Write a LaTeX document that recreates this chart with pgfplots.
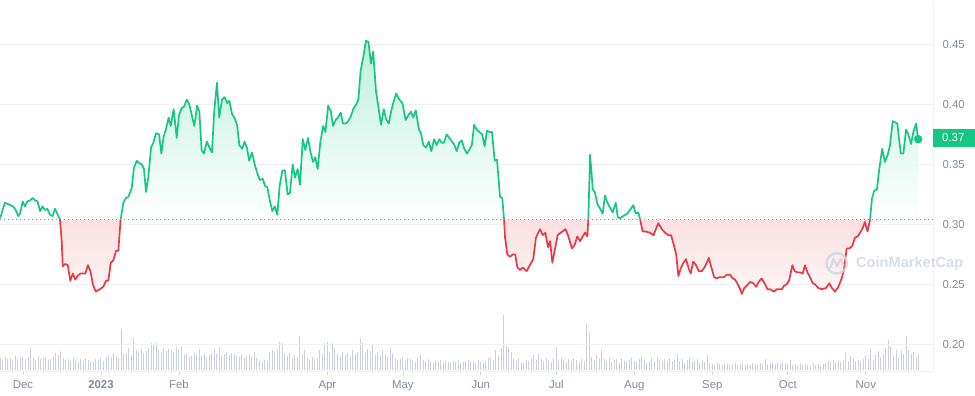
\documentclass[border=0pt]{standalone}
\usepackage{fontspec}
\setmainfont{Liberation Sans}
\usepackage{pgfplots}
\pgfplotsset{compat=1.18}
\usepackage{pgfplotstable}

\definecolor{cmcgreen}{HTML}{16C784}
\definecolor{cmcred}{HTML}{EA3943}
\definecolor{gridc}{HTML}{EFF2F5}
\definecolor{tickc}{HTML}{CDD3DD}
\definecolor{labc}{HTML}{808A9D}
\definecolor{volc}{HTML}{C9CFDC}
\definecolor{dotc}{HTML}{8F99AB}
\definecolor{wmc}{HTML}{CFD6E4}

% price: day index from 1 Dec 2022, price in USD
\pgfplotstableread{
d p
-9.1 0.305
-7.2 0.318
-3.9 0.315
-2.9 0.312
-1.9 0.307
-1.2 0.309
-0.1 0.319
0.8 0.315
1.7 0.319
2.8 0.320
3.9 0.322
4.8 0.320
5.8 0.319
6.8 0.311
7.8 0.315
8.7 0.312
9.7 0.313
10.7 0.308
11.8 0.307
12.7 0.313
13.6 0.309
14.7 0.304
15.4 0.286
15.8 0.265
16.7 0.267
17.8 0.266
18.8 0.253
19.8 0.259
20.8 0.254
21.7 0.257
22.8 0.259
24.8 0.259
25.8 0.266
26.8 0.261
27.8 0.250
28.9 0.244
30.6 0.246
31.9 0.248
33.0 0.253
33.9 0.253
34.9 0.268
35.9 0.270
37.0 0.278
37.9 0.278
38.8 0.304
39.9 0.318
40.9 0.322
41.9 0.323
43.2 0.330
44.1 0.347
45.2 0.353
46.2 0.351
47.3 0.350
48.1 0.346
48.9 0.327
49.8 0.339
50.9 0.364
51.8 0.368
52.9 0.376
54.1 0.375
55.0 0.359
55.9 0.373
56.8 0.379
57.9 0.389
58.7 0.382
59.9 0.396
61.1 0.372
62.0 0.391
63.1 0.397
64.0 0.398
65.1 0.404
66.1 0.400
67.1 0.391
68.1 0.382
69.2 0.399
70.1 0.394
71.0 0.362
71.9 0.359
73.1 0.369
74.1 0.364
75.1 0.360
76.0 0.394
77.1 0.418
78.0 0.389
79.1 0.404
80.2 0.406
81.1 0.401
82.0 0.403
83.1 0.392
84.0 0.389
85.1 0.383
86.0 0.366
87.1 0.363
88.1 0.369
89.0 0.364
89.9 0.353
91.0 0.360
92.1 0.350
93.1 0.343
94.1 0.337
95.3 0.338
96.2 0.332
97.1 0.331
98.2 0.319
99.1 0.311
100.1 0.315
101.1 0.308
102.0 0.332
103.1 0.345
104.1 0.345
105.2 0.325
106.1 0.326
107.2 0.350
108.1 0.339
109.2 0.346
110.1 0.333
111.2 0.371
112.2 0.362
113.3 0.372
114.2 0.361
115.3 0.352
116.2 0.356
117.1 0.346
118.2 0.369
119.3 0.382
120.2 0.377
121.3 0.399
122.4 0.394
123.2 0.382
124.3 0.387
125.2 0.389
126.3 0.393
127.2 0.384
128.3 0.384
129.3 0.386
130.3 0.390
131.3 0.396
132.4 0.400
133.3 0.404
134.2 0.428
135.3 0.440
136.3 0.453
137.3 0.452
138.3 0.434
139.2 0.444
140.3 0.411
141.4 0.396
142.3 0.383
143.4 0.396
144.3 0.388
145.4 0.384
146.3 0.394
147.0 0.400
148.3 0.409
149.6 0.404
150.8 0.401
152.1 0.387
153.2 0.391
154.2 0.394
155.1 0.389
156.1 0.395
157.4 0.379
158.2 0.376
159.1 0.366
160.2 0.364
161.3 0.369
162.3 0.361
163.4 0.371
164.4 0.366
165.5 0.371
166.4 0.368
167.3 0.368
168.4 0.375
169.5 0.372
170.5 0.369
171.3 0.367
172.4 0.361
173.4 0.368
174.4 0.370
175.4 0.363
176.5 0.359
177.4 0.362
178.4 0.366
179.3 0.383
180.3 0.379
181.4 0.377
182.5 0.375
183.5 0.365
184.4 0.378
185.5 0.377
186.4 0.377
187.5 0.353
188.4 0.354
189.6 0.323
190.5 0.322
191.2 0.304
191.6 0.289
192.5 0.275
193.6 0.273
194.7 0.275
195.6 0.275
196.5 0.264
197.6 0.262
198.6 0.264
200.2 0.261
202.8 0.271
203.9 0.289
205.5 0.296
206.6 0.291
207.6 0.293
208.7 0.281
209.5 0.286
210.4 0.268
211.5 0.280
212.5 0.291
213.7 0.293
215.6 0.296
216.6 0.291
218.2 0.280
219.3 0.283
220.3 0.290
221.4 0.286
222.5 0.290
223.4 0.293
224.3 0.290
224.7 0.304
225.4 0.358
226.5 0.329
227.3 0.327
228.3 0.317
229.4 0.313
230.4 0.309
231.3 0.324
232.3 0.318
233.3 0.314
234.4 0.310
235.6 0.318
236.4 0.306
237.3 0.305
238.6 0.307
240.2 0.309
242.6 0.316
243.5 0.309
244.6 0.310
245.3 0.304
246.3 0.294
247.6 0.294
249.2 0.293
250.6 0.291
252.5 0.301
253.9 0.296
255.2 0.293
256.5 0.291
257.6 0.291
258.8 0.282
259.6 0.275
260.5 0.257
261.4 0.263
262.5 0.268
263.5 0.271
264.5 0.264
265.4 0.259
266.4 0.269
267.5 0.266
268.6 0.261
269.8 0.261
270.8 0.264
271.8 0.268
272.6 0.272
273.5 0.265
274.7 0.256
275.7 0.255
276.8 0.256
278.6 0.256
279.7 0.258
281.0 0.258
282.1 0.255
283.0 0.254
283.9 0.251
285.0 0.246
285.7 0.242
286.7 0.247
287.7 0.249
289.0 0.252
290.3 0.251
291.4 0.248
292.4 0.252
293.6 0.255
294.7 0.251
295.9 0.246
296.9 0.246
298.5 0.244
299.6 0.246
300.6 0.246
301.7 0.246
302.5 0.249
303.6 0.250
304.6 0.254
305.8 0.266
306.7 0.261
307.8 0.260
308.8 0.260
309.9 0.259
310.8 0.266
311.8 0.260
312.8 0.256
313.9 0.251
314.8 0.250
316.1 0.247
317.5 0.246
319.2 0.247
320.5 0.251
321.5 0.247
322.8 0.244
324.1 0.248
325.4 0.255
326.3 0.262
327.4 0.280
328.5 0.280
329.6 0.282
330.7 0.289
331.8 0.290
332.7 0.293
333.8 0.297
334.6 0.302
335.7 0.294
336.7 0.304
337.4 0.321
338.3 0.328
339.4 0.329
340.4 0.347
341.5 0.363
342.6 0.352
343.7 0.358
344.6 0.366
345.7 0.386
346.7 0.385
347.5 0.384
348.9 0.359
349.9 0.359
351.0 0.379
351.9 0.375
353.0 0.367
353.9 0.377
355.0 0.384
355.8 0.371
}\price

% daily volume (relative units), first row = day -9
\pgfplotstableread[row sep=\\]{h\\
12\\10\\13\\11\\12\\10\\14\\11\\12\\13\\
11\\13\\22\\12\\10\\14\\11\\12\\13\\10\\
11\\13\\17\\15\\19\\12\\10\\11\\9\\12\\
10\\8\\11\\9\\12\\10\\8\\9\\11\\10\\
12\\9\\13\\15\\13\\17\\14\\12\\41\\16\\
17\\22\\14\\32\\20\\18\\21\\17\\19\\22\\
27\\25\\27\\20\\18\\22\\19\\21\\20\\18\\
23\\21\\24\\15\\16\\13\\14\\17\\15\\21\\
14\\16\\13\\15\\17\\21\\16\\23\\14\\16\\
18\\15\\17\\16\\14\\13\\15\\12\\14\\16\\
13\\18\\12\\9\\8\\10\\9\\18\\20\\17\\
20\\28\\27\\16\\14\\17\\12\\15\\13\\34\\
16\\20\\12\\10\\13\\11\\12\\20\\16\\27\\
28\\18\\27\\22\\16\\13\\18\\15\\17\\14\\
20\\16\\18\\31\\27\\17\\21\\19\\25\\15\\
18\\14\\20\\16\\13\\22\\17\\12\\10\\11\\
13\\9\\12\\11\\10\\8\\12\\15\\10\\9\\
11\\8\\7\\9\\8\\10\\7\\9\\8\\7\\
9\\8\\10\\7\\8\\9\\10\\8\\9\\7\\
10\\8\\7\\9\\12\\13\\10\\20\\15\\22\\
55\\24\\22\\18\\11\\9\\12\\8\\7\\10\\
9\\12\\15\\10\\16\\11\\9\\12\\10\\8\\
11\\23\\9\\12\\10\\8\\11\\9\\12\\10\\
8\\11\\9\\46\\37\\13\\10\\15\\12\\20\\
11\\9\\12\\8\\10\\11\\7\\12\\9\\8\\
10\\12\\9\\8\\11\\14\\10\\7\\9\\12\\
8\\13\\10\\9\\11\\8\\12\\9\\10\\16\\
9\\11\\7\\10\\12\\8\\9\\11\\7\\10\\
8\\15\\7\\6\\5\\7\\6\\5\\7\\6\\
5\\6\\7\\5\\6\\7\\5\\6\\5\\7\\
6\\5\\7\\6\\11\\6\\7\\8\\6\\7\\
6\\8\\7\\6\\10\\5\\6\\4\\7\\5\\
6\\5\\4\\7\\5\\6\\4\\6\\7\\9\\
8\\10\\7\\9\\8\\10\\17\\9\\14\\12\\
9\\10\\8\\11\\14\\11\\21\\10\\15\\19\\
13\\16\\22\\30\\24\\14\\20\\12\\19\\16\\
34\\20\\16\\18\\13\\17\\
}\vol

\begin{document}
\begin{tikzpicture}[x=1pt,y=1pt]
\useasboundingbox (0,0) rectangle (975,396);
% volume bars
\begin{axis}[at={(0,26)}, anchor=south west, scale only axis,
  width=933pt, height=370pt, xmin=-9.14, xmax=361.7, ymin=0, ymax=370,
  axis lines=none]
  \addplot[ycomb, mark=none, draw=volc, line width=1pt] table[x expr=\coordindex-9, y=h] {\vol};
\end{axis}
% price
\begin{axis}[at={(0,20.5)}, anchor=south west, scale only axis,
  width=933pt, height=370pt,
  xmin=-9.14, xmax=361.7, ymin=0.1775, ymax=0.4858,
  axis x line*=bottom, axis y line*=right,
  axis line style={draw=gridc, line width=1pt, -},
  xtick={0,31,62,121,151,182,212,243,274,304,335},
  xticklabels={Dec,\textbf{2023},Feb,Apr,May,Jun,Jul,Aug,Sep,Oct,Nov},
  ytick={0.20,0.25,0.30,0.35,0.40,0.45},
  yticklabels={0.20,0.25,0.30,0.35,0.40,0.45},
  ymajorgrids, major grid style={draw=gridc, line width=0.9pt},
  tick align=outside, major tick length=4pt,
  x tick style={draw=tickc, line width=0.8pt},
  y tick style={draw=none},
  ticklabel style={font=\fontsize{11.4}{13}\selectfont, text=labc},
  xticklabel style={anchor=base, yshift=-13pt},
  yticklabel style={anchor=west, xshift=2pt},
]
  \addplot[draw=none, top color=cmcgreen!28!white, bottom color=white,
    y filter/.expression={max(y,0.304)}] table[x=d,y=p] {\price}
    -- (axis cs:355.8,0.304) -- (axis cs:-9.1,0.304) -- cycle;
  \addplot[draw=none, top color=cmcred!16!white, bottom color=cmcred!5!white,
    y filter/.expression={min(y,0.304)}] table[x=d,y=p] {\price}
    -- (axis cs:355.8,0.304) -- (axis cs:-9.1,0.304) -- cycle;
  \addplot[dotc, line width=0.9pt, dash pattern=on 0.9pt off 3.1pt] coordinates {(-9.14,0.304) (361.7,0.304)};
  \addplot[cmcgreen, line width=1.7pt, line join=round, restrict y to domain=0.3039:1, unbounded coords=jump] table[x=d,y=p] {\price};
  \addplot[cmcred, line width=1.7pt, line join=round, restrict y to domain=0:0.3041, unbounded coords=jump] table[x=d,y=p] {\price};
  \addplot[only marks, mark=*, mark size=4pt, cmcgreen] coordinates {(355.8,0.371)};
\end{axis}
% current price tag
\fill[cmcgreen] (933,249) rectangle (975,267);
\node[anchor=west, inner sep=0pt, text=white, font=\fontsize{11.4}{13}\selectfont] at (942,258) {0.37};
% watermark
\begin{scope}[opacity=0.85]
\draw[wmc, line width=2.4pt] (836.7,132.7) circle (10.2);
\draw[wmc, line width=2.2pt, line join=round, line cap=round] (830.5,128.5) -- (833.5,137) -- (837,130) -- (840.5,137) -- (843.5,131);
\node[anchor=west, inner sep=0pt, text=wmc, font=\bfseries\fontsize{14.6}{16}\selectfont] at (856,132.5) {CoinMarketCap};
\end{scope}
\end{tikzpicture}
\end{document}
